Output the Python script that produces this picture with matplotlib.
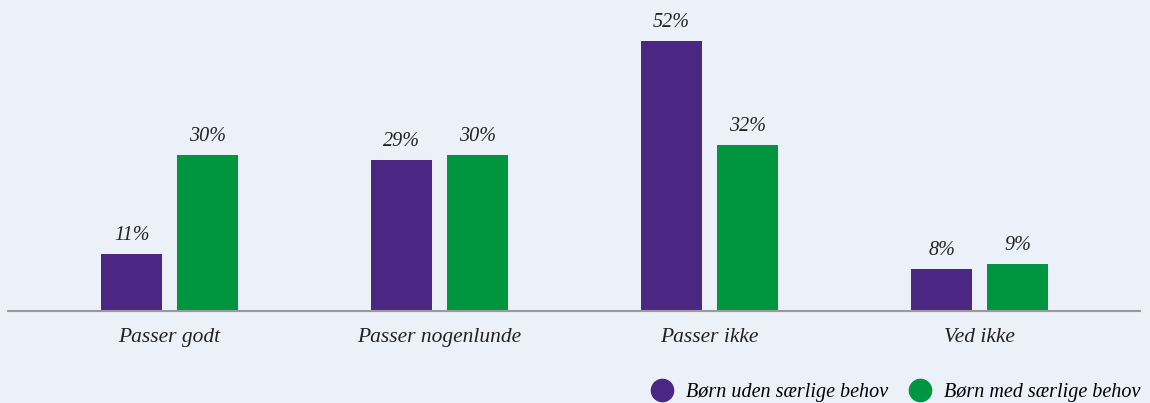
import numpy as np
import matplotlib.pyplot as plt
from matplotlib.lines import Line2D

categories = ['Passer godt', 'Passer nogenlunde', 'Passer ikke', 'Ved ikke']
uden = [11, 29, 52, 8]
med = [30, 30, 32, 9]
series_names = ['Børn uden særlige behov', 'Børn med særlige behov']

BG = '#ECF0F9'
PURPLE = '#4B2683'
GREEN = '#00963F'
FONT = 'Liberation Serif'

fig = plt.figure(figsize=(11.5, 4.03), dpi=100, facecolor=BG)
ax = fig.add_axes([0, 92 / 403, 1, 311 / 403])
ax.set_facecolor(BG)

x = np.arange(len(categories))
w = 0.226
off = 0.1407
b1 = ax.bar(x - off, uden, w, color=PURPLE)
b2 = ax.bar(x + off, med, w, color=GREEN)

for bars, vals in ((b1, uden), (b2, med)):
    for b, v in zip(bars, vals):
        ax.text(b.get_x() + b.get_width() / 2, v + 1.8, f'{v}%', ha='center', va='bottom',
                fontsize=14.5, fontstyle='italic', family=FONT, color='#222222')

ax.set_xlim(-0.628, 3.631)
ax.set_ylim(0, 59.9)
for s in ['top', 'right', 'left']:
    ax.spines[s].set_visible(False)
ax.spines['bottom'].set_color('#9a9a9a')
ax.spines['bottom'].set_linewidth(1.5)
ax.spines['bottom'].set_bounds(-0.598, 3.594)
ax.set_yticks([])
ax.set_xticks(x)
ax.set_xticklabels(categories, fontsize=15.5, fontstyle='italic', family=FONT, color='#222222')
ax.tick_params(axis='x', length=0, pad=12)

handles = [Line2D([], [], marker='o', linestyle='', markersize=16, color=c) for c in (PURPLE, GREEN)]
fig.legend(handles, series_names, loc='center right', bbox_to_anchor=(0.992, 11 / 403), ncol=2,
           frameon=False, handletextpad=0.6, columnspacing=1.0, handlelength=1.2,
           prop={'family': FONT, 'style': 'italic', 'size': 14.5}, borderaxespad=0.0,
           borderpad=0.0)

fig.savefig('out.png', dpi=100, facecolor=BG)
